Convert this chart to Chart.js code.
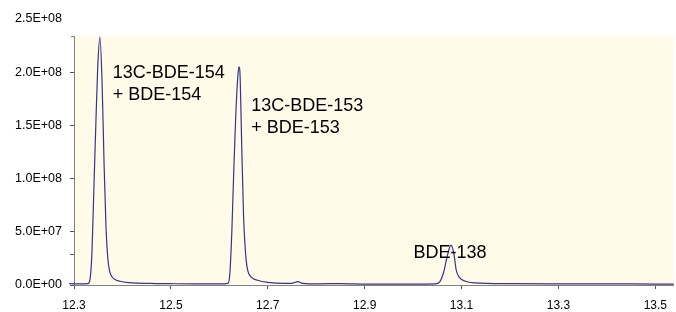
<!DOCTYPE html>
<html>
<head>
<meta charset="utf-8">
<script src="https://cdn.jsdelivr.net/npm/chart.js@4.4.1/dist/chart.umd.min.js"></script>
<style>
  html, body { margin: 0; padding: 0; background: #fff; }
  #wrap { width: 676px; height: 312px; }
</style>
</head>
<body>
<div id="wrap"><canvas id="myChart" width="676" height="312"></canvas></div>
<script>
// retention time (min) and signal
const rt = [12.277, 12.29, 12.31, 12.329, 12.333, 12.337, 12.341, 12.345, 12.349, 12.3535,
    12.358, 12.362, 12.366, 12.370, 12.374, 12.382, 12.395, 12.415, 12.457, 12.50,
    12.55, 12.60, 12.6175, 12.6216, 12.6258, 12.630, 12.634, 12.638, 12.6405, 12.643,
    12.646, 12.650, 12.655, 12.659, 12.667, 12.679, 12.700, 12.735, 12.749, 12.762,
    12.772, 12.807, 12.85, 12.90, 12.95, 13.00, 13.046, 13.055, 13.063, 13.071,
    13.078, 13.084, 13.089, 13.096, 13.108, 13.127, 13.20, 13.30, 13.40, 13.50, 13.538];
const intensity = [1.5e6, 1.2e6, 1.0e6, 1.2e6, 5e6, 3e7, 9e7, 1.5e8, 2.05e8, 2.33e8,
    1.9e8, 1.15e8, 5.5e7, 2.4e7, 1.2e7, 6e6, 3.5e6, 2.2e6, 1.5e6, 1.2e6,
    1.0e6, 1.0e6, 1.5e6, 1e7, 5e7, 1.1e8, 1.6e8, 1.95e8, 2.05e8, 1.95e8,
    1.35e8, 6.5e7, 2.5e7, 1.3e7, 7e6, 4.5e6, 2.5e6, 1.6e6, 1.6e6, 3.2e6,
    1.6e6, 1.1e6, 1.3e6, 0.9e6, 0.8e6, 0.8e6, 1.0e6, 3e6, 1.2e7, 2.8e7,
    3.75e7, 3e7, 1.4e7, 7e6, 3.5e6, 2e6, 1.2e6, 1.0e6, 1.1e6, 0.9e6, 0.9e6];

const xTicks = [12.3, 12.5, 12.7, 12.9, 13.1, 13.3, 13.5];
const yTicks = [0, 2.9e7, 5e7, 1e8, 1.5e8, 2e8, 2.5e8];
const yTickLabels = ['0.0E+00', '', '5.0E+07', '1.0E+08', '1.5E+08', '2.0E+08', '2.5E+08'];

// peak labels (text lines, anchor in data units)
const peakNames = [['13C-BDE-154', '+ BDE-154'], ['13C-BDE-153', '+ BDE-153'], ['BDE-138']];
const peakLabelRt = [12.380, 12.666, 13.001];
const peakLabelY = [1.99e8, 1.68e8, 3.0e7];

const plotTop = 2.336e8;   // where the shaded plot area stops
const font = '"Liberation Sans", Arial, Helvetica, sans-serif';

// cream plot background + short y axis line
const plotBox = {
    id: 'plotBox',
    beforeDraw(chart) {
        const { ctx, chartArea, scales } = chart;
        const yt = scales.y.getPixelForValue(plotTop);
        ctx.save();
        ctx.fillStyle = '#fffbe8';
        ctx.fillRect(chartArea.left, yt, chartArea.right - chartArea.left, chartArea.bottom - yt);
        ctx.strokeStyle = '#808080';
        ctx.lineWidth = 1;
        ctx.beginPath();
        ctx.moveTo(chartArea.left - 3, Math.round(yt) + 0.5);
        ctx.lineTo(chartArea.left + 0.5, Math.round(yt) + 0.5);
        ctx.lineTo(chartArea.left + 0.5, chartArea.bottom);
        ctx.stroke();
        ctx.restore();
    }
};

const peakText = {
    id: 'peakText',
    afterDatasetsDraw(chart) {
        const { ctx, scales } = chart;
        ctx.save();
        ctx.font = '18px ' + font;
        ctx.fillStyle = '#000';
        ctx.textBaseline = 'middle';
        ctx.textAlign = 'left';
        for (let i = 0; i < peakNames.length; i++) {
            const px = scales.x.getPixelForValue(peakLabelRt[i]);
            const py = scales.y.getPixelForValue(peakLabelY[i]);
            peakNames[i].forEach(function (line, j) {
                ctx.fillText(line, px, py + j * 22);
            });
        }
        ctx.restore();
    }
};

function main() {
    const points = [];
    for (let i = 0; i < rt.length; i++) {
        points.push({ x: rt[i], y: intensity[i] });
    }

    const ctx = document.getElementById('myChart').getContext('2d');
    new Chart(ctx, {
        type: 'line',
        data: {
            datasets: [{
                data: points,
                borderColor: '#34358f',
                borderWidth: 1.2,
                pointRadius: 0,
                cubicInterpolationMode: 'monotone',
                clip: false
            }]
        },
        options: {
            responsive: false,
            animation: false,
            layout: { padding: { top: 19, right: 0, bottom: 0, left: 0 } },
            plugins: {
                legend: { display: false },
                tooltip: { enabled: false },
                title: { display: false }
            },
            scales: {
                x: {
                    type: 'linear',
                    min: 12.3,
                    max: 13.538,
                    afterBuildTicks: function (s) { s.ticks = xTicks.map(v => ({ value: v })); },
                    afterFit: function (s) { s.height = 27; },
                    grid: { drawOnChartArea: false, tickLength: 4, tickColor: '#555' },
                    border: { color: '#808080', width: 1 },
                    ticks: {
                        color: '#000',
                        padding: 9,
                        maxRotation: 0,
                        autoSkip: false,
                        font: { family: font, size: 12 },
                        callback: v => v.toFixed(1)
                    }
                },
                y: {
                    min: 0,
                    max: 2.5e8,
                    afterBuildTicks: function (s) { s.ticks = yTicks.map(v => ({ value: v })); },
                    afterFit: function (s) { s.width = 74; },
                    grid: {
                        drawOnChartArea: false,
                        tickLength: 4,
                        tickColor: c => (c.tick && c.tick.value === 2.5e8) ? 'rgba(0,0,0,0)' : '#555'
                    },
                    border: { display: false },
                    ticks: {
                        color: '#000',
                        padding: 8,
                        autoSkip: false,
                        font: { family: font, size: 12.5 },
                        callback: (v, i) => yTickLabels[i]
                    }
                }
            }
        },
        plugins: [plotBox, peakText]
    });
}

main();
</script>
</body>
</html>
